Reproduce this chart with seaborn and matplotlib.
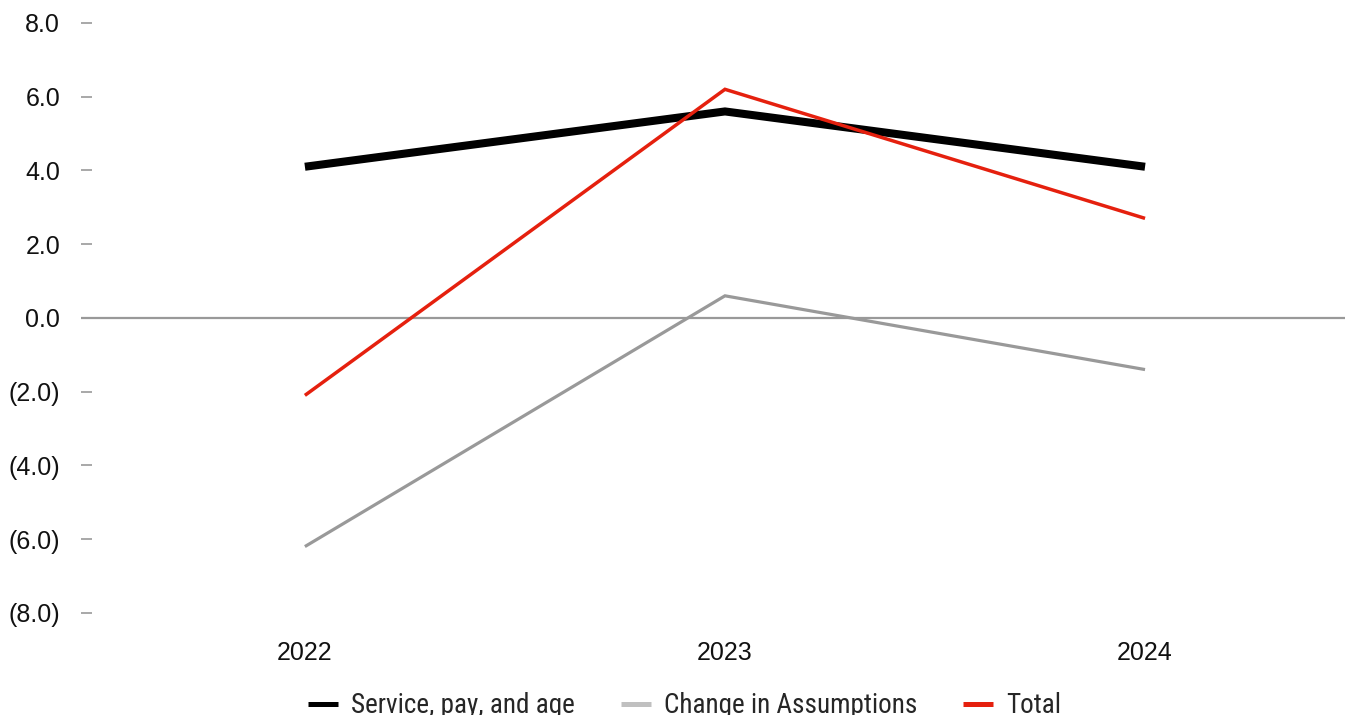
import matplotlib
matplotlib.use("Agg")
import matplotlib.pyplot as plt
from matplotlib.lines import Line2D
from matplotlib.ticker import FixedLocator, FuncFormatter
import seaborn as sns
import pandas as pd

years = ["2022", "2023", "2024"]
service_pay_age = [4.1, 5.6, 4.1]
change_in_assumptions = [-6.2, 0.6, -1.4]
total = [-2.1, 6.2, 2.7]
series_names = ["Service, pay, and age", "Change in Assumptions", "Total"]
y_ticks = [8.0, 6.0, 4.0, 2.0, 0.0, -2.0, -4.0, -6.0, -8.0]

df = pd.DataFrame({
    "year": years * 3,
    "value": service_pay_age + change_in_assumptions + total,
    "series": [s for s in series_names for _ in years],
})

line_colors = {
    "Service, pay, and age": "#000000",
    "Change in Assumptions": "#999999",
    "Total": "#E5200E",
}
legend_colors = {
    "Service, pay, and age": "#000000",
    "Change in Assumptions": "#C0C0C0",
    "Total": "#E5200E",
}
line_widths = {
    "Service, pay, and age": 5.8,
    "Change in Assumptions": 2.3,
    "Total": 2.5,
}

sns.set_theme(style="white")
plt.rcParams["font.family"] = ["Liberation Sans", "DejaVu Sans"]

fig = plt.figure(figsize=(13.45, 7.15), dpi=100)
ax = fig.add_axes([81 / 1345, 1 - 624 / 715, 1 - 81 / 1345, (624 - 4.5) / 715])

ax.axhline(0, color="#999999", lw=1.6, zorder=1)

sns.lineplot(
    data=df, x="year", y="value", hue="series", size="series",
    hue_order=series_names, size_order=series_names,
    palette=line_colors, sizes=line_widths, sort=False,
    legend=False, ax=ax, zorder=3,
)
for line in ax.get_lines():
    line.set_solid_capstyle("butt")
    line.set_solid_joinstyle("miter")

ax.set_xlim(-0.533, 2.476)
ax.set_ylim(-8.3, 8.5)
ax.yaxis.set_major_locator(FixedLocator(y_ticks))


def fmt(v, _pos):
    return f"({abs(v):.1f})" if v < 0 else f"{v:.1f}"


ax.yaxis.set_major_formatter(FuncFormatter(fmt))
ax.set_xlabel("")
ax.set_ylabel("")
for s in ax.spines.values():
    s.set_visible(False)
ax.tick_params(axis="y", direction="in", length=11 * 0.72, width=1.2,
               color="#999999", pad=15, labelsize=18, labelcolor="#111111", left=True)
ax.tick_params(axis="x", length=0, pad=12, labelsize=18, labelcolor="#111111")
for lab in ax.get_xticklabels() + ax.get_yticklabels():
    lab.set_family(["Liberation Sans", "DejaVu Sans"])

handles = [Line2D([], [], color=legend_colors[s], lw=3.6, solid_capstyle="butt")
           for s in series_names]
fig.legend(
    handles, series_names, loc="center", bbox_to_anchor=(0.509, 0.013),
    ncol=3, frameon=False, handlelength=1.1, handletextpad=0.48,
    columnspacing=1.7,
    prop={"family": ["Roboto Condensed", "Roboto", "DejaVu Sans"], "size": 19.5},
)

fig.savefig("out.png", dpi=100)
